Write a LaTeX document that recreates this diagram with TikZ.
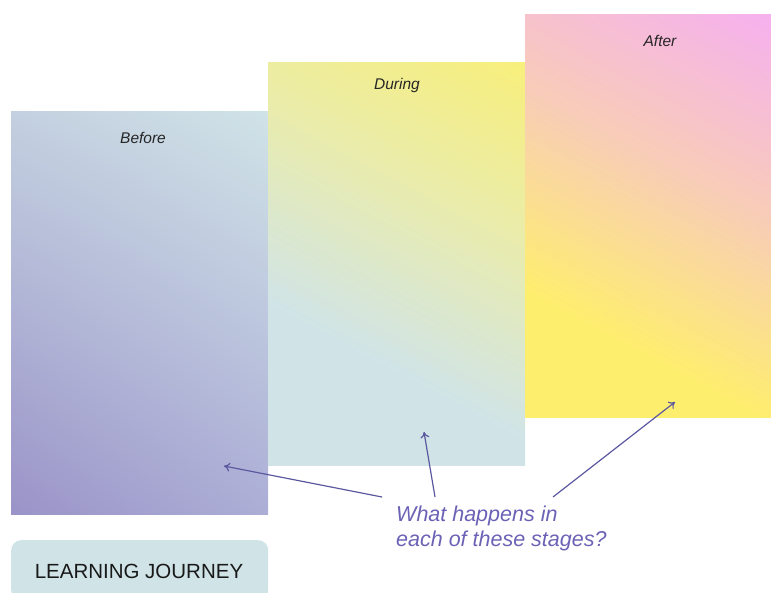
\documentclass[tikz,border=0pt]{standalone}
\usepackage{fontspec}
\setmainfont{Liberation Sans}
\usetikzlibrary{positioning, arrows.meta, shadings}

\definecolor{paleblue}{HTML}{D0E4E8}
\definecolor{pointer}{HTML}{5C58A0}
\definecolor{asktext}{HTML}{6B62B5}
% corner colours of the first stage
\definecolor{beforeUL}{RGB}{195,208,224}
\definecolor{beforeUR}{RGB}{208,227,231}
\definecolor{beforeLL}{RGB}{154,147,200}
\definecolor{beforeLR}{RGB}{172,174,214}
% stops of the other two
\definecolor{duringblue}{RGB}{208,228,232}
\definecolor{duringmid}{RGB}{234,236,170}
\definecolor{duringyellow}{RGB}{253,240,106}
\definecolor{afteryellow}{RGB}{254,238,110}
\definecolor{afterpeach}{RGB}{248,204,184}
\definecolor{afterpink}{RGB}{245,172,248}

\pgfdeclareverticalshading{duringshade}{100bp}{color(0bp)=(duringblue); color(36bp)=(duringblue);
color(62bp)=(duringmid); color(92bp)=(duringyellow); color(100bp)=(duringyellow)}
\pgfdeclareverticalshading{aftershade}{100bp}{color(0bp)=(afteryellow); color(32bp)=(afteryellow);
color(58bp)=(afterpeach); color(88bp)=(afterpink); color(100bp)=(afterpink)}

\tikzset{
stage/.style={inner sep=0, outer sep=0, anchor=north west, minimum width=257pt, minimum height=403pt},
stagelabel/.style={font=\itshape\fontsize{15.5}{18}\selectfont, text=black!85},
pointto/.style={draw=pointer, line width=1.2pt, -{To[length=6pt, width=9pt]}}
}

\begin{document}
\begin{tikzpicture}[x=1pt, y=-1pt]

\useasboundingbox (0,0) rectangle (771,592);

\node (before) [stage, shading=bilinear interpolation, upper left=beforeUL, upper right=beforeUR,
lower left=beforeLL, lower right=beforeLR] at (11,111) {};
\node (during) [stage, shading=duringshade, shading angle=-28] at (268,62) {};
\node (after) [stage, minimum width=246pt, shading=aftershade, shading angle=-28] at (525,14) {};

\node [stagelabel] (beforelabel) at (143,138) {Before};
\node [stagelabel] (duringlabel) at (397,85) {During};
\node [stagelabel] (afterlabel) at (660,41) {After};

\node (journey) [fill=paleblue, rounded corners=10pt, anchor=north west, minimum width=257pt, minimum height=60pt] at (11,540) {};
\node (journeytext) [font=\fontsize{20.5}{24}\selectfont, text=black!90] at (139,571) {LEARNING JOURNEY};

\node (question) [anchor=north west, align=left, inner sep=0, text=asktext,
font=\itshape\fontsize{21.5}{25}\selectfont] at (396,506) {What happens in\\each of these stages?};

\coordinate (beforetip) at (224,466);
\coordinate (duringtip) at (424,432);
\coordinate (aftertip) at (675,402);
\coordinate (beforetail) at (382,497);
\coordinate (duringtail) at (435,497);
\coordinate (aftertail) at (553,497);

\draw [pointto] (beforetail) -- (beforetip);
\draw [pointto] (duringtail) -- (duringtip);
\draw [pointto] (aftertail) -- (aftertip);

\end{tikzpicture}
\end{document}
